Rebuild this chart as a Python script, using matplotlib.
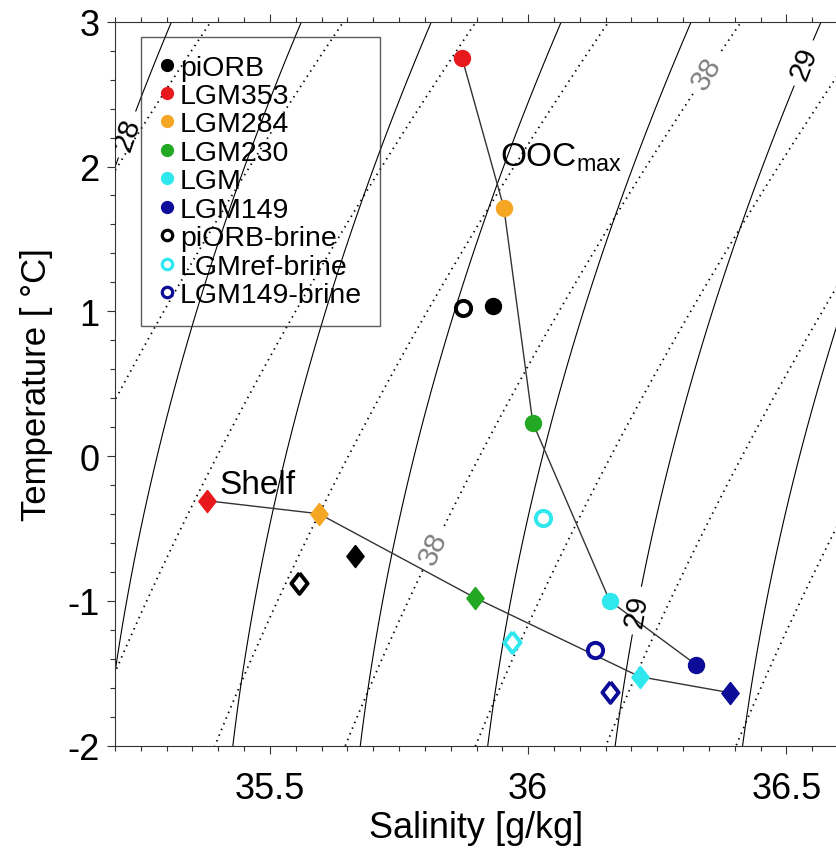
import matplotlib
matplotlib.use("Agg")
import matplotlib.pyplot as plt
from matplotlib.lines import Line2D
from matplotlib.ticker import MultipleLocator
import numpy as np

plt.rcParams['font.family'] = ['Liberation Sans', 'DejaVu Sans']
plt.rcParams['mathtext.fontset'] = 'custom'
plt.rcParams['mathtext.rm'] = 'Liberation Sans'
plt.rcParams['axes.unicode_minus'] = False

# experiments (legend order)
names = ['piORB', 'LGM353', 'LGM284', 'LGM230', 'LGM', 'LGM149',
         'piORB-brine', 'LGMref-brine', 'LGM149-brine']
colors = ['black', '#e8191c', '#f5a623', '#22a822', '#2ee8ee', '#0c0c99',
          'black', '#2ee8ee', '#0c0c99']
brine = [False, False, False, False, False, False, True, True, True]

# OOC max (circles)
ooc_S = [35.932, 35.872, 35.953, 36.009, 36.158, 36.325, 35.874, 36.029, 36.129]
ooc_T = [1.04, 2.75, 1.715, 0.23, -1.00, -1.44, 1.025, -0.43, -1.34]
# shelf (diamonds)
shelf_S = [35.665, 35.378, 35.595, 35.897, 36.216, 36.391, 35.556, 35.968, 36.158]
shelf_T = [-0.688, -0.308, -0.398, -0.978, -1.523, -1.634, -0.874, -1.282, -1.627]
# experiments joined by the thin line
path_idx = [1, 2, 3, 4, 5]

sig0_levels = [27.8, 28.2, 28.4, 28.6, 28.8, 29.2, 29.4]
sig0_labelled = [28.0, 29.0]
sig2_levels = [36.8, 37.0, 37.2, 37.4, 37.6, 37.8, 38.2, 38.4, 38.6]
sig2_labelled = [38.0]


# UNESCO EOS-80 density
def rho_surface(S, T):
    rw = (999.842594 + 6.793952e-2*T - 9.095290e-3*T**2 + 1.001685e-4*T**3
          - 1.120083e-6*T**4 + 6.536332e-9*T**5)
    return (rw + S*(0.824493 - 4.0899e-3*T + 7.6438e-5*T**2 - 8.2467e-7*T**3 + 5.3875e-9*T**4)
            + S**1.5*(-5.72466e-3 + 1.0227e-4*T - 1.6546e-6*T**2) + 4.8314e-4*S**2)


def rho(S, T, p):
    # p in bar
    kw = 19652.21 + 148.4206*T - 2.327105*T**2 + 1.360477e-2*T**3 - 5.155288e-5*T**4
    aw = 3.239908 + 1.43713e-3*T + 1.16092e-4*T**2 - 5.77905e-7*T**3
    bw = 8.50935e-5 - 6.12293e-6*T + 5.2787e-8*T**2
    k0 = (kw + S*(54.6746 - 0.603459*T + 1.09987e-2*T**2 - 6.1670e-5*T**3)
          + S**1.5*(7.944e-2 + 1.6483e-2*T - 5.3009e-4*T**2))
    a = aw + S*(2.2838e-3 - 1.0981e-5*T - 1.6078e-6*T**2) + 1.91075e-4*S**1.5
    b = bw + S*(-9.9348e-7 + 2.0816e-8*T + 9.1697e-10*T**2)
    k = k0 + a*p + b*p**2
    return rho_surface(S, T) / (1 - p/k)


def atg(S, T, P):
    # adiabatic lapse rate, degC/dbar
    ds = S - 35.0
    return ((((-2.1687e-16*T + 1.8676e-14)*T - 4.6206e-13)*P
             + ((2.7759e-12*T - 1.1351e-10)*ds + ((-5.4481e-14*T + 8.733e-12)*T - 6.7795e-10)*T + 1.8741e-8))*P
            + (-4.2393e-8*T + 1.8932e-6)*ds + ((6.6228e-10*T - 6.836e-8)*T + 8.5258e-6)*T + 3.5803e-5)


def temp_at(S, theta, pmax, n=40):
    T = theta.copy()
    dp = pmax / n
    for k in range(n):
        p = k*dp
        k1 = atg(S, T, p)
        k2 = atg(S, T + 0.5*dp*k1, p + 0.5*dp)
        T = T + dp*k2
    return T


sa = np.linspace(35.0, 36.8, 400)
th = np.linspace(-2.5, 3.5, 400)
SA, TH = np.meshgrid(sa, th)
SP = SA * 35.0 / 35.16504
sig0 = rho_surface(SP, TH) - 1000
sig2 = rho(SP, temp_at(SP, TH, 2000.0), 200.0) - 1000

fig = plt.figure(figsize=(8.37, 8.54), dpi=100)
ax = fig.add_axes([0.1374, 0.1256, 0.8638, 0.8478])

dots = (0, (0.8, 2.6))
ax.contour(SA, TH, sig0, levels=sig0_levels, colors='black', linewidths=0.8, linestyles='solid')
cs0 = ax.contour(SA, TH, sig0, levels=sig0_labelled, colors='black', linewidths=0.8, linestyles='solid')
ax.contour(SA, TH, sig2, levels=sig2_levels, colors='black', linewidths=1.3, linestyles=[dots])
cs2 = ax.contour(SA, TH, sig2, levels=sig2_labelled, colors='black', linewidths=1.3, linestyles=[dots])

ax.clabel(cs0, fmt='%d', fontsize=21, inline=True, inline_spacing=4,
          manual=[(35.233, 2.21), (36.545, 2.70), (36.216, -1.07)])
ax.clabel(cs2, fmt='%d', fontsize=21, inline=True, inline_spacing=4, colors='gray',
          manual=[(36.357, 2.62), (35.823, -0.646)])

ax.plot([ooc_S[i] for i in path_idx], [ooc_T[i] for i in path_idx], color='#333333', lw=1, zorder=3)
ax.plot([shelf_S[i] for i in path_idx], [shelf_T[i] for i in path_idx], color='#333333', lw=1, zorder=3)

diamond = [(0, 1), (0.78, 0), (0, -1), (-0.78, 0), (0, 1)]
for i in range(len(names)):
    if brine[i]:
        ax.plot(ooc_S[i], ooc_T[i], 'o', ms=11, mfc='white', mec=colors[i], mew=2.8, zorder=4)
        ax.plot(shelf_S[i], shelf_T[i], marker=diamond, ms=15, mfc='white', mec=colors[i], mew=2.8, zorder=4)
    else:
        ax.plot(ooc_S[i], ooc_T[i], 'o', ms=11.5, color=colors[i], zorder=4)
        ax.plot(shelf_S[i], shelf_T[i], marker=diamond, ms=16, color=colors[i], zorder=4)

ax.text(35.946, 2.006, r'OOC$_{\mathrm{max}}$', fontsize=24, va='baseline', ha='left')
ax.text(35.402, -0.253, 'Shelf', fontsize=24, va='baseline', ha='left')

handles = []
for i in range(len(names)):
    if brine[i]:
        h = Line2D([], [], ls='none', marker='o', ms=7.5, mfc='white', mec=colors[i], mew=2.3)
    else:
        h = Line2D([], [], ls='none', marker='o', ms=8.5, color=colors[i])
    handles.append(h)
leg = ax.legend(handles, names, loc='upper left', bbox_to_anchor=(0.036, 0.979), borderaxespad=0,
                fontsize=20.5, handlelength=0.55, handletextpad=0.2, labelspacing=0.085,
                borderpad=0.62, fancybox=False, frameon=True)
leg.get_frame().set_facecolor('none')
leg.get_frame().set_edgecolor('#333333')
leg.get_frame().set_linewidth(1.0)

ax.set_xlim(35.2, 36.6)
ax.set_ylim(-2, 3)
ax.set_xticks([35.5, 36.0, 36.5])
ax.set_xticklabels(['35.5', '36', '36.5'])
ax.set_yticks([-2, -1, 0, 1, 2, 3])
ax.xaxis.set_minor_locator(MultipleLocator(0.05))
ax.yaxis.set_minor_locator(MultipleLocator(0.2))
ax.tick_params(which='both', direction='out', top=True, right=True, width=0.8, color='#333333')
ax.tick_params(which='major', length=6)
ax.tick_params(which='minor', length=3.5)
ax.tick_params(axis='x', labelsize=26, pad=12)
ax.tick_params(axis='y', labelsize=26, pad=5)
for sp in ax.spines.values():
    sp.set_linewidth(0.8)
    sp.set_color('#333333')

ax.set_xlabel('Salinity [g/kg]', fontsize=26, labelpad=3)
ax.set_ylabel('Temperature [ °C]', fontsize=25, labelpad=10)

fig.savefig('out.png', dpi=100)
